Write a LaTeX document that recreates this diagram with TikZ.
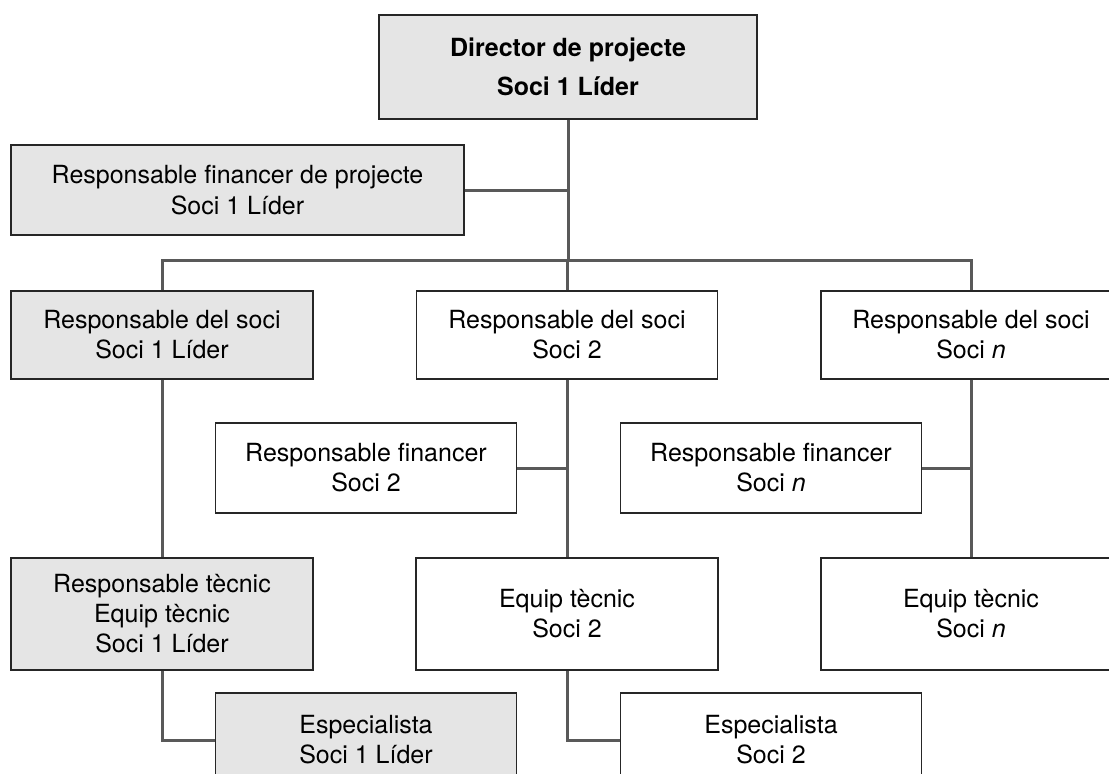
\documentclass[tikz,border=0pt]{standalone}
\usepackage{fontspec}
\setmainfont{TeX Gyre Heros}
\tikzset{
  box/.style={draw=black!85, line width=1.4pt, fill=white, align=center, inner sep=0pt,
    minimum width=301pt, font=\fontsize{25}{30}\selectfont},
  lead/.style={box, fill=black!10},
  link/.style={draw=black!65, line width=3pt},
}
\begin{document}
\begin{tikzpicture}[x=1pt,y=-1pt]
\useasboundingbox (0,0) rectangle (1109,774);
\clip (0,0) rectangle (1109,774);
% nodes
\node[lead, minimum width=378pt, minimum height=104pt, font=\bfseries\fontsize{25}{39}\selectfont] (top) at (568,67) {Director de projecte\\Soci 1 Líder};
\node[lead, minimum width=453pt, minimum height=90pt, font=\fontsize{25}{31}\selectfont] (fin) at (237.5,190) {Responsable financer de projecte\\Soci 1 Líder};
\node[lead, minimum width=302pt, minimum height=88pt] (r1) at (162,335) {Responsable del soci\\Soci 1 Líder};
\node[box, minimum height=88pt] (r2) at (567,335) {Responsable del soci\\Soci 2};
\node[box, minimum width=300pt, minimum height=88pt] (r3) at (971,335) {Responsable del soci\\Soci \textit{n}};
\node[box, minimum height=90pt] (f2) at (366,468) {Responsable financer\\Soci 2};
\node[box, minimum height=90pt] (f3) at (771,468) {Responsable financer\\Soci \textit{n}};
\node[lead, minimum width=302pt, minimum height=112pt] (t1) at (162,614) {Responsable tècnic\\Equip tècnic\\Soci 1 Líder};
\node[box, minimum width=302pt, minimum height=112pt] (t2) at (567,614) {Equip tècnic\\Soci 2};
\node[box, minimum width=300pt, minimum height=112pt] (t3) at (971,614) {Equip tècnic\\Soci \textit{n}};
\node[lead, minimum height=94pt] (e1) at (366,740) {Especialista\\Soci 1 Líder};
\node[box, minimum height=94pt] (e2) at (771,740) {Especialista\\Soci 2};
\coordinate (bus) at (568,260);
% connectors
\draw[link] (top.south) -- (top.south|-bus);
\draw[link] (fin.east) -- (fin.east-|top.south);
\draw[link] (r1.north) -- (r1.north|-bus) -- (r3.north|-bus) -- (r3.north);
\draw[link] (r2.north) -- (r2.north|-bus);
\draw[link] (r1.south) -- (t1.north);
\draw[link] (r2.south) -- (t2.north);
\draw[link] (r3.south) -- (t3.north);
\draw[link] (f2.east) -- (f2.east-|r2.south);
\draw[link] (f3.east) -- (f3.east-|r3.south);
\draw[link] (t1.south) |- (e1.west);
\draw[link] (t2.south) |- (e2.west);
\end{tikzpicture}
\end{document}
